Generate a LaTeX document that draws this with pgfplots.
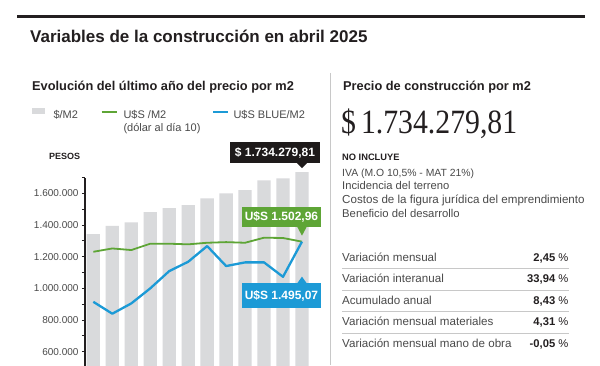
\documentclass[border=0pt]{standalone}
\usepackage{pgfplots}
\pgfplotsset{compat=1.18}
\usepackage{fontspec}
\setmainfont{Liberation Sans}
\newfontfamily\bigserif{Liberation Serif}
\definecolor{txt}{HTML}{231F20}
\definecolor{body}{HTML}{4A4A4A}
\definecolor{barg}{HTML}{D9DADC}
\definecolor{lgreen}{HTML}{5EA536}
\definecolor{lblue}{HTML}{1C9AD6}
\definecolor{boxk}{HTML}{1E1A1A}
\definecolor{sepc}{HTML}{C8C8C8}
\newcommand\fs[1]{\fontsize{#1}{#1}\selectfont}
\newcommand\row[3]{%
  \node[anchor=base west, inner sep=0pt, text=body, font=\fs{11.6}] at (342,#1) {#2};
  \node[anchor=base east, inner sep=0pt, text=txt, font=\fs{11.2}] at (568.5,#1) {\textbf{#3} \%};}
\begin{document}
\begin{tikzpicture}[x=1pt,y=1pt]
\useasboundingbox (0,0) rectangle (600,365);
\clip (0,0) rectangle (600,365);
\fill[white] (0,0) rectangle (600,365);
% header
\draw[txt, line width=3pt] (17,348.5) -- (585,348.5);
\node[anchor=base west, inner sep=0pt, text=txt, font=\bfseries\fs{17}] at (30,322) {Variables de la construcción en abril 2025};
\node[anchor=base west, inner sep=0pt, text=txt, font=\bfseries\fs{12.8}] at (32,274) {Evolución del último año del precio por m2};
\node[anchor=base west, inner sep=0pt, text=txt, font=\bfseries\fs{12.8}] at (343,274) {Precio de construcción por m2};
\draw[sepc, line width=1pt] (330,292) -- (330,0);
% legend
\fill[barg] (31.7,251) rectangle (45,256.7);
\node[anchor=base west, inner sep=0pt, text=body, font=\fs{11}] at (53.3,247) {\$/M2};
\draw[lgreen, line width=2pt] (101.7,253.5) -- (116.7,253.5);
\node[anchor=base west, inner sep=0pt, text=body, font=\fs{11}] at (123.3,247) {U\$S /M2};
\node[anchor=base west, inner sep=0pt, text=body, font=\fs{11}] at (123.3,234) {(dólar al día 10)};
\draw[lblue, line width=2pt] (213.3,253.5) -- (228.3,253.5);
\node[anchor=base west, inner sep=0pt, text=body, font=\fs{11}] at (233.3,247) {U\$S BLUE/M2};
\node[anchor=base west, inner sep=0pt, text=txt, font=\bfseries\fs{9}] at (49,206) {PESOS};
% right panel
\node[anchor=base west, inner sep=0pt, text=txt, font=\bigserif\fs{34}] at (341,231.7) {\scalebox{0.875}[1]{\$\,1.734.279,81}};
\node[anchor=base west, inner sep=0pt, text=txt, font=\bfseries\fs{9.3}] at (342,205) {NO INCLUYE};
\node[anchor=base west, inner sep=0pt, text=body, font=\fs{10.4}] at (342,189) {IVA (M.O 10,5\% - MAT 21\%)};
\node[anchor=base west, inner sep=0pt, text=body, font=\fs{11.2}] at (342,175.2) {Incidencia del terreno};
\node[anchor=base west, inner sep=0pt, text=body, font=\fs{11.6}] at (342,161.4) {Costos de la figura jurídica del emprendimiento};
\node[anchor=base west, inner sep=0pt, text=body, font=\fs{11.3}] at (342,147.6) {Beneficio del desarrollo};
\foreach \yy in {96.5,75,53.5,32} {\draw[sepc, line width=0.8pt] (342,\yy) -- (568.5,\yy);}
\row{103.5}{Variación mensual}{2,45}
\row{82.5}{Variación interanual}{33,94}
\row{61}{Acumulado anual}{8,43}
\row{39.5}{Variación mensual materiales}{4,31}
\row{18}{Variación mensual mano de obra}{-0,05}
\begin{axis}[
  at={(85pt,-18.4pt)}, anchor=south west,
  scale only axis, width=227.6pt, height=205.9pt,
  xmin=-0.44, xmax=11.56, ymin=400000, ymax=1700000,
  axis x line=none, axis y line*=left,
  clip=false,
  ytick={600000,800000,1000000,1200000,1400000,1600000},
  minor ytick={500000,700000,900000,1100000,1300000,1500000,1700000},
  tick align=outside, major tick length=3pt, minor tick length=3pt,
  every tick/.style={draw=txt, line width=1pt},
  axis line style={draw=txt, line width=1.2pt},
  scaled y ticks=false,
  /pgf/number format/assume math mode=true,
  yticklabel style={font=\fs{10}, text=body, /pgf/number format/fixed, /pgf/number format/1000 sep={.}},
]
\addplot[ybar, bar width=13.3pt, fill=barg, draw=none] coordinates {
(0,1343000) (1,1395000) (2,1417000) (3,1482000) (4,1507000) (5,1526000)
(6,1568000) (7,1600000) (8,1621000) (9,1682000) (10,1695000) (11,1734280)};
\addplot[lgreen, line width=1.8pt, line join=round] coordinates {
(0,1231000) (1,1252000) (2,1242000) (3,1282000) (4,1282000) (5,1278000)
(6,1288000) (7,1292000) (8,1288000) (9,1320000) (10,1318000) (11,1295000)};
\addplot[lblue, line width=2.3pt, line join=round] coordinates {
(0,915000) (1,840000) (2,905000) (3,1000000) (4,1109000) (5,1168000)
(6,1267000) (7,1141000) (8,1164000) (9,1164000) (10,1073000) (11,1295000)};
\coordinate (E) at (axis cs:11,1734280);
\coordinate (G) at (axis cs:11,1295000);
\end{axis}
% annotation boxes
\fill[boxk] ([xshift=-72pt,yshift=8.7pt]E) rectangle ([xshift=18pt,yshift=30.3pt]E);
\fill[boxk] ([xshift=-5pt,yshift=9pt]E) -- ([xshift=5pt,yshift=9pt]E) -- ([yshift=4pt]E) -- cycle;
\node[text=white, inner sep=0pt, font=\bfseries\fs{12}] at ([xshift=-27pt,yshift=19.5pt]E) {\$ 1.734.279,81};
\fill[lgreen] ([xshift=-60pt,yshift=15pt]G) rectangle ([xshift=19pt,yshift=34.6pt]G);
\fill[lgreen] ([xshift=-5pt,yshift=15.3pt]G) -- ([xshift=5pt,yshift=15.3pt]G) -- ([yshift=6pt]G) -- cycle;
\node[text=white, inner sep=0pt, font=\bfseries\fs{12}] at ([xshift=-20.5pt,yshift=24.8pt]G) {U\$S 1.502,96};
\fill[lblue] ([xshift=-60pt,yshift=-41.7pt]G) rectangle ([xshift=19pt,yshift=-66.4pt]G);
\fill[lblue] ([xshift=-5pt,yshift=-42pt]G) -- ([xshift=5pt,yshift=-42pt]G) -- ([yshift=-35pt]G) -- cycle;
\node[text=white, inner sep=0pt, font=\bfseries\fs{12}] at ([xshift=-20.5pt,yshift=-54pt]G) {U\$S 1.495,07};
\end{tikzpicture}
\end{document}
